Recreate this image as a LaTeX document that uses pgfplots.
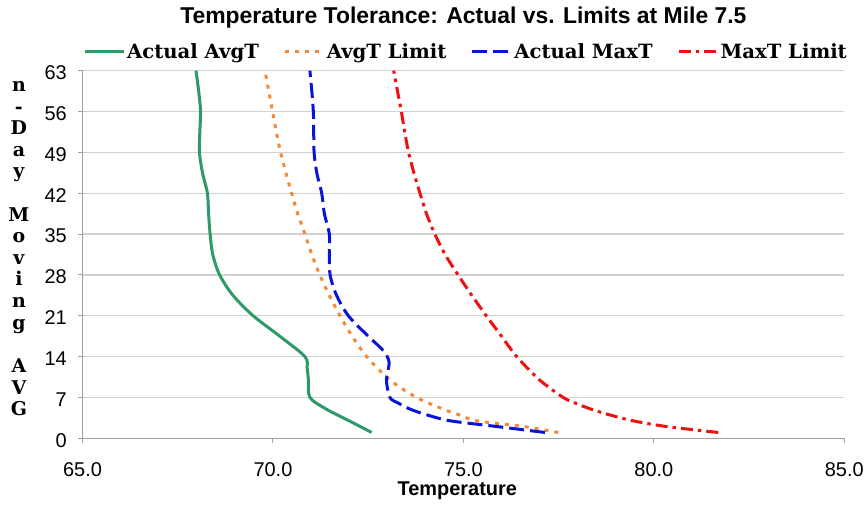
\documentclass[border=0pt]{standalone}
\usepackage{fontspec}
\setmainfont{Liberation Sans}
\newfontfamily\legfont{DejaVu Serif}
\usepackage{pgfplots}
\pgfplotsset{compat=1.18}
\definecolor{cgreen}{HTML}{2E9A6A}
\definecolor{corange}{HTML}{F28A3C}
\definecolor{cblue}{HTML}{0A14D8}
\definecolor{cred}{HTML}{F01010}
\definecolor{gridc}{HTML}{D2D2D2}
\definecolor{axc}{HTML}{A0A0A0}
\begin{document}
\begin{tikzpicture}
\useasboundingbox (0,0) rectangle (867bp,508bp);
\begin{axis}[
  at={(82.5bp,69.7bp)}, anchor=south west,
  scale only axis, width=761.8bp, height=367.6bp,
  clip mode=individual,
  xmin=65, xmax=85, ymin=0, ymax=63,
  xtick={65,70,75,80,85}, ytick={0,7,14,21,28,35,42,49,56,63},
  axis x line=bottom, axis y line=left,
  axis line style={-, axc, line width=1.2bp},
  tick style={axc, line width=1bp}, tick align=outside, major tick length=5bp,
  ymajorgrids, grid style={gridc, line width=1.2bp},
  /pgf/number format/assume math mode=true,
  xticklabel={\pgfmathprintnumber[fixed,fixed zerofill,precision=1]{\tick}},
  ticklabel style={font=\fontsize{20}{24}\selectfont},
  xticklabel style={inner sep=0pt, yshift=-19.5bp},
  yticklabel style={inner sep=0pt, xshift=-10.5bp, yshift=-2bp},
  title={Temperature Tolerance: Actual vs. Limits at Mile 7.5},
  title style={at={(axis description cs:0.5,1.1134)}, anchor=base, inner sep=0pt, font=\bfseries\fontsize{23}{27}\selectfont},
  xlabel={Temperature},
  xlabel style={at={(axis description cs:0.492,-0.1175)}, anchor=north, inner sep=0pt, font=\bfseries\fontsize{20}{24}\selectfont},
  legend columns=4,
  legend style={at={(axis description cs:0.5034,1.052)}, anchor=center, draw=none, fill=none,
     font=\legfont\bfseries\fontsize{19.7}{23}\selectfont,
     /tikz/every even column/.append style={column sep=23bp},
     nodes={inner sep=1.5bp}},
  legend cell align=left,
  legend image code/.code={\draw[#1] (0bp,0bp) -- (39bp,0bp);},
  every axis plot/.append style={line width=3bp, smooth, tension=0.5}
]
\addplot[cgreen] coordinates {
(72.59,1) (72.0,3) (71.4,5) (70.97,7) (70.93,10) (70.9,12) (70.84,14) (70.18,17.5) (69.48,21) (68.95,24.5) (68.6,28) (68.42,31.5) (68.35,35) (68.31,38.5) (68.28,42) (68.15,45.5) (68.07,49) (68.08,52.5) (68.1,56) (68.05,59.5) (67.98,63)};
\addlegendentry{Actual AvgT}
\addplot[corange, dash pattern=on 4bp off 6bp] coordinates {
(77.49,1) (76.6,2) (75.35,3) (74.9,4) (74.47,5) (73.77,7) (73.07,10) (72.46,14) (72.08,17.5) (71.76,21) (71.48,24.5) (71.23,28) (71.02,31.5) (70.84,35) (70.65,38.5) (70.49,42) (70.34,45.5) (70.2,49) (70.09,52.5) (69.99,56) (69.89,59.5) (69.79,63)};
\addlegendentry{AvgT Limit}
\addplot[cblue, dash pattern=on 15bp off 6bp] coordinates {
(77.14,1) (75.9,2) (74.65,3) (74.05,4) (73.6,5) (73.3,6) (73.07,7) (72.98,10) (73.05,13) (72.9,15) (72.5,17.5) (71.98,21) (71.67,24.5) (71.5,28) (71.48,31.5) (71.48,35) (71.35,38.5) (71.28,42) (71.15,45.5) (71.08,49) (71.07,52.5) (71.06,56) (71.02,59.5) (70.97,63)};
\addlegendentry{Actual MaxT}
\addplot[cred, dash pattern=on 12bp off 5bp on 3.5bp off 5bp] coordinates {
(81.69,1) (80.35,2) (79.45,3) (78.85,4) (78.35,5) (77.95,6) (77.62,7) (77.0,10) (76.4,14) (76.0,17.5) (75.6,21) (75.22,24.5) (74.86,28) (74.52,31.5) (74.25,35) (74.03,38.5) (73.86,42) (73.7,45.5) (73.56,49) (73.46,52.5) (73.37,56) (73.27,59.5) (73.17,63)};
\addlegendentry{MaxT Limit}
\node[align=center, font=\legfont\bfseries\fontsize{19}{21.7}\selectfont, inner sep=0pt]
  at (axis description cs:-0.0835,0.516) {n\\-\\D\\a\\y\\~\\M\\o\\v\\i\\n\\g\\~\\A\\V\\G};
\end{axis}
\end{tikzpicture}
\end{document}
